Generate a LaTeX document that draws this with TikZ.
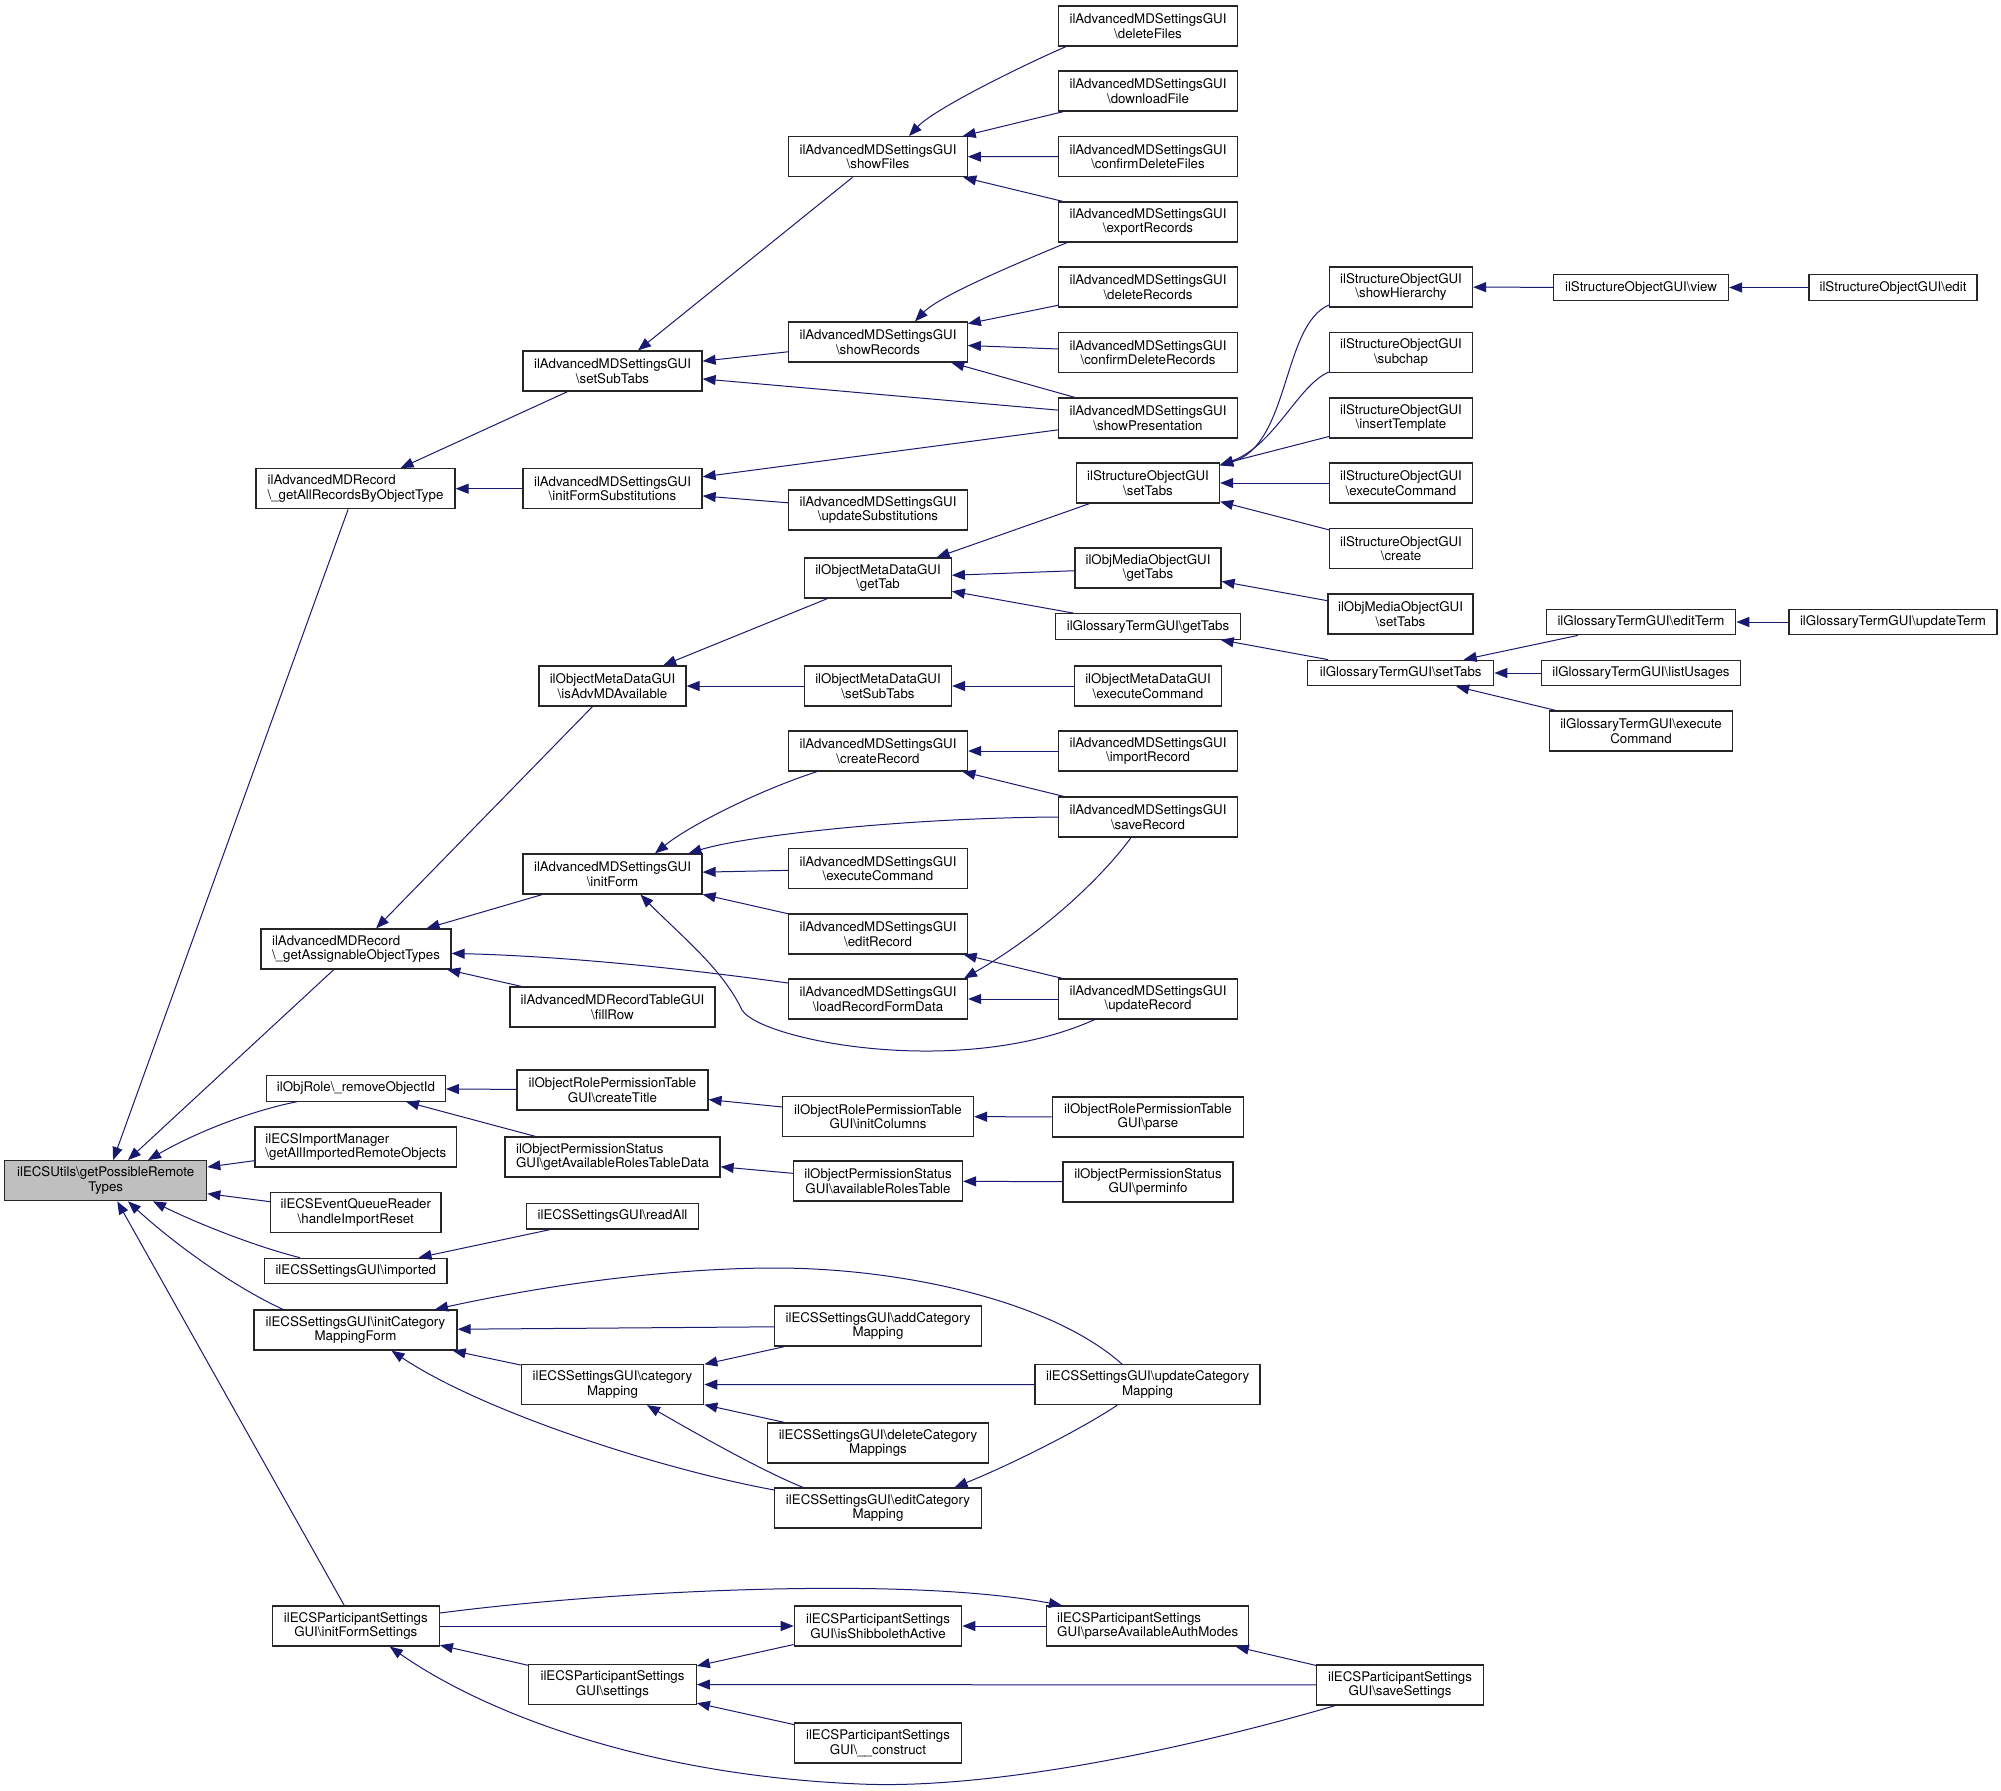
\documentclass[tikz,border=0pt]{standalone}
\usepackage{fontspec}
\setmainfont{TeX Gyre Heros}
\usetikzlibrary{arrows.meta}
\definecolor{edgeblue}{RGB}{25,25,112}
\definecolor{rootgray}{RGB}{191,191,191}
\newcommand{\BSx}{\textbackslash}
\begin{document}
\begin{tikzpicture}[x=1pt,y=-1pt,
 box/.style={draw=black!85,line width=1.25pt,inner sep=0pt,align=center,font=\fontsize{13.3pt}{14.5pt}\selectfont,minimum height=40pt},
 lbox/.style={box,align=left},
 sbox/.style={box,minimum height=25.5pt},
 conn/.style={draw=edgeblue,line width=1.0pt,{Triangle[length=13pt,width=10pt]}-},
 connr/.style={draw=edgeblue,line width=1.0pt,-{Triangle[length=13pt,width=10pt]}},
]
\useasboundingbox (0,0) rectangle (2001,1790);
% column 1
\node[box,fill=rootgray,minimum width=202pt] (R) at (105.7,1180.7) {ilECSUtils\BSx getPossibleRemote\\Types};
% column 2
\node[lbox,minimum width=199pt] (A1) at (355.5,488.7) {ilAdvancedMDRecord\\\BSx\_getAllRecordsByObjectType};
\node[lbox,minimum width=190pt] (A2) at (356,949) {ilAdvancedMDRecord\\\BSx\_getAssignableObjectTypes};
\node[sbox,minimum width=178.6pt] (A3) at (356,1088.4) {ilObjRole\BSx\_removeObjectId};
\node[lbox,minimum width=201.7pt] (A4) at (355.8,1147) {ilECSImportManager\\\BSx getAllImportedRemoteObjects};
\node[box,minimum width=170.5pt] (A5) at (355.8,1212.6) {ilECSEventQueueReader\\\BSx handleImportReset};
\node[sbox,minimum width=182.5pt] (A6) at (355.8,1271) {ilECSSettingsGUI\BSx imported};
\node[box,minimum width=203pt] (A7) at (355.5,1330) {ilECSSettingsGUI\BSx initCategory\\MappingForm};
\node[box,minimum width=167pt] (A8) at (355.8,1626) {ilECSParticipantSettings\\GUI\BSx initFormSettings};
% column 3
\node[box,minimum width=179pt] (B1) at (612.5,371) {ilAdvancedMDSettingsGUI\\\BSx setSubTabs};
\node[box,minimum width=179pt] (B2) at (612.5,488.7) {ilAdvancedMDSettingsGUI\\\BSx initFormSubstitutions};
\node[box,minimum width=147pt] (B3) at (612.5,686) {ilObjectMetaDataGUI\\\BSx isAdvMDAvailable};
\node[box,minimum width=179pt] (B4) at (612.5,874) {ilAdvancedMDSettingsGUI\\\BSx initForm};
\node[box,minimum width=205pt] (B5) at (612.5,1007) {ilAdvancedMDRecordTableGUI\\\BSx fillRow};
\node[box,minimum width=191pt] (B6) at (612.5,1090) {ilObjectRolePermissionTable\\GUI\BSx createTitle};
\node[lbox,minimum width=215pt] (B7) at (612.5,1157) {ilObjectPermissionStatus\\GUI\BSx getAvailableRolesTableData};
\node[sbox,minimum width=171.7pt] (B8) at (612.5,1216.3) {ilECSSettingsGUI\BSx readAll};
\node[box,minimum width=182.4pt] (B9) at (612.5,1384.5) {ilECSSettingsGUI\BSx category\\Mapping};
\node[box,minimum width=167.5pt] (B10) at (612.5,1684.5) {ilECSParticipantSettings\\GUI\BSx settings};
% column 4
\node[box,minimum width=178.5pt] (C1) at (878,156.7) {ilAdvancedMDSettingsGUI\\\BSx showFiles};
\node[box,minimum width=178.5pt] (C2) at (878,342) {ilAdvancedMDSettingsGUI\\\BSx showRecords};
\node[box,minimum width=178.5pt] (C2b) at (878,510) {ilAdvancedMDSettingsGUI\\\BSx updateSubstitutions};
\node[box,minimum width=146.5pt] (C3) at (878,578) {ilObjectMetaDataGUI\\\BSx getTab};
\node[box,minimum width=147pt] (C4) at (878,686) {ilObjectMetaDataGUI\\\BSx setSubTabs};
\node[box,minimum width=179pt] (C5) at (878,751) {ilAdvancedMDSettingsGUI\\\BSx createRecord};
\node[box,minimum width=179pt] (C6) at (878,868.5) {ilAdvancedMDSettingsGUI\\\BSx executeCommand};
\node[box,minimum width=179pt] (C7) at (878,934) {ilAdvancedMDSettingsGUI\\\BSx editRecord};
\node[box,minimum width=179pt] (C8) at (878,999) {ilAdvancedMDSettingsGUI\\\BSx loadRecordFormData};
\node[box,minimum width=191pt] (C9) at (878,1116.5) {ilObjectRolePermissionTable\\GUI\BSx initColumns};
\node[box,minimum width=169pt] (C10) at (878,1181) {ilObjectPermissionStatus\\GUI\BSx availableRolesTable};
\node[box,minimum width=206.4pt] (C11) at (878,1326) {ilECSSettingsGUI\BSx addCategory\\Mapping};
\node[box,minimum width=220.3pt] (C12) at (878,1443) {ilECSSettingsGUI\BSx deleteCategory\\Mappings};
\node[box,minimum width=206.4pt] (C13) at (878,1508) {ilECSSettingsGUI\BSx editCategory\\Mapping};
\node[box,minimum width=167.4pt] (C14) at (878,1626) {ilECSParticipantSettings\\GUI\BSx isShibbolethActive};
\node[box,minimum width=167pt] (C15) at (878,1743) {ilECSParticipantSettings\\GUI\BSx\_\_construct};
% column 5
\node[box,minimum width=179pt] (D1) at (1148,26) {ilAdvancedMDSettingsGUI\\\BSx deleteFiles};
\node[box,minimum width=179pt] (D2) at (1148,91) {ilAdvancedMDSettingsGUI\\\BSx downloadFile};
\node[box,minimum width=179pt] (D3) at (1148,156.6) {ilAdvancedMDSettingsGUI\\\BSx confirmDeleteFiles};
\node[box,minimum width=179pt] (D4) at (1148,222) {ilAdvancedMDSettingsGUI\\\BSx exportRecords};
\node[box,minimum width=179pt] (D5) at (1148,287) {ilAdvancedMDSettingsGUI\\\BSx deleteRecords};
\node[box,minimum width=179pt] (D6) at (1148,352.5) {ilAdvancedMDSettingsGUI\\\BSx confirmDeleteRecords};
\node[box,minimum width=179pt] (D7) at (1148,418) {ilAdvancedMDSettingsGUI\\\BSx showPresentation};
\node[box,minimum width=143pt] (D8) at (1148,483) {ilStructureObjectGUI\\\BSx setTabs};
\node[box,minimum width=146pt] (D9) at (1148,568) {ilObjMediaObjectGUI\\\BSx getTabs};
\node[sbox,minimum width=185pt] (D10) at (1148,626.5) {ilGlossaryTermGUI\BSx getTabs};
\node[box,minimum width=147pt] (D11) at (1148,686) {ilObjectMetaDataGUI\\\BSx executeCommand};
\node[box,minimum width=179pt] (D12) at (1148,751) {ilAdvancedMDSettingsGUI\\\BSx importRecord};
\node[box,minimum width=179pt] (D13) at (1148,817) {ilAdvancedMDSettingsGUI\\\BSx saveRecord};
\node[box,minimum width=179pt] (D14) at (1148,999) {ilAdvancedMDSettingsGUI\\\BSx updateRecord};
\node[box,minimum width=191.4pt] (D15) at (1148,1117) {ilObjectRolePermissionTable\\GUI\BSx parse};
\node[box,minimum width=170pt] (D16) at (1148,1182) {ilObjectPermissionStatus\\GUI\BSx perminfo};
\node[box,minimum width=225pt] (D17) at (1147.6,1384.7) {ilECSSettingsGUI\BSx updateCategory\\Mapping};
\node[lbox,minimum width=202pt] (D18) at (1147.7,1626) {ilECSParticipantSettings\\GUI\BSx parseAvailableAuthModes};
% column 6
\node[box,minimum width=143pt] (E1) at (1401,287) {ilStructureObjectGUI\\\BSx showHierarchy};
\node[box,minimum width=143pt] (E2) at (1401,352.5) {ilStructureObjectGUI\\\BSx subchap};
\node[box,minimum width=143pt] (E3) at (1401,418) {ilStructureObjectGUI\\\BSx insertTemplate};
\node[box,minimum width=143pt] (E4) at (1401,483) {ilStructureObjectGUI\\\BSx executeCommand};
\node[box,minimum width=143pt] (E5) at (1401,548.5) {ilStructureObjectGUI\\\BSx create};
\node[box,minimum width=145pt] (E6) at (1400.5,614) {ilObjMediaObjectGUI\\\BSx setTabs};
\node[sbox,minimum width=186pt] (E7) at (1400.7,673) {ilGlossaryTermGUI\BSx setTabs};
\node[box,minimum width=167pt] (E8) at (1400,1685) {ilECSParticipantSettings\\GUI\BSx saveSettings};
% column 7
\node[sbox,minimum width=175pt] (F1) at (1641,287.5) {ilStructureObjectGUI\BSx view};
\node[sbox,minimum width=189.4pt] (F2) at (1641,622) {ilGlossaryTermGUI\BSx editTerm};
\node[sbox,minimum width=199.5pt] (F3) at (1641,673) {ilGlossaryTermGUI\BSx listUsages};
\node[box,minimum width=183pt] (F4) at (1641,731) {ilGlossaryTermGUI\BSx execute\\Command};
% column 8
\node[sbox,minimum width=168pt] (G1) at (1893,287.5) {ilStructureObjectGUI\BSx edit};
\node[sbox,minimum width=208pt] (G2) at (1893,622) {ilGlossaryTermGUI\BSx updateTerm};
% edges into root
\draw[conn] (R) -- (A1);
\draw[conn] (R) -- (A2);
\draw[conn] ([xshift=42.3pt]R.north) .. controls (200,1130) and (255,1110) .. ([xshift=-59.3pt]A3.south);
\draw[conn] (R) -- (A4);
\draw[conn] (R) -- (A5);
\draw[conn] ([xshift=47.3pt]R.south) .. controls (190,1220) and (250,1245) .. ([xshift=-56pt]A6.north);
\draw[conn] ([xshift=22.3pt]R.south) .. controls (170,1240) and (230,1285) .. ([xshift=-72.5pt]A7.north);
\draw[conn] (R) -- (A8);
% A1 group
\draw[conn] (A1) -- (B1);
\draw[conn] (A1) -- (B2);
\draw[conn] (B1) -- (C1);
\draw[conn] (B1) -- (C2);
\draw[conn] (B1) -- (D7);
\draw[conn] ([xshift=31pt]C1.north) .. controls (935,108) and (1030,62) .. ([xshift=-82pt]D1.south);
\draw[conn] (C1) -- (D2);
\draw[conn] (C1) -- (D3);
\draw[conn] (C1) -- (D4);
\draw[conn] ([xshift=37pt]C2.north) .. controls (940,295) and (1030,258) .. ([xshift=-81pt]D4.south);
\draw[conn] (C2) -- (D5);
\draw[conn] (C2) -- (D6);
\draw[conn] (C2) -- (D7);
\draw[conn] (B2) -- (D7);
\draw[conn] (B2) -- (C2b);
% A2 group
\draw[conn] (A2) -- (B3);
\draw[conn] (A2) -- (B4);
\draw[conn] ([yshift=-4.4pt]A2.east) .. controls (560,956) and (680,968) .. ([yshift=16pt]C8.west);
\draw[conn] (A2) -- (B5);
\draw[conn] (B3) -- (C3);
\draw[conn] (B3) -- (C4);
\draw[conn] (C4) -- (D11);
\draw[conn] (C3) -- (D8);
\draw[conn] (C3) -- (D9);
\draw[conn] (C3) -- (D10);
\draw[conn] ([yshift=-3pt]D8.north east) .. controls (1290,445) and (1282,325) .. ([yshift=-18pt]E1.west);
\draw[conn] ([yshift=-3pt]D8.north east) .. controls (1275,445) and (1298,385) .. ([yshift=-19.5pt]E2.west);
\draw[conn] (D8) -- (E3);
\draw[conn] (D8) -- (E4);
\draw[conn] (D8) -- (E5);
\draw[conn] (E1) -- (F1);
\draw[conn] (F1) -- (G1);
\draw[conn] (D9) -- (E6);
\draw[conn] (D10) -- (E7);
\draw[conn] (E7) -- (F2);
\draw[conn] (E7) -- (F3);
\draw[conn] (E7) -- (F4);
\draw[conn] (F2) -- (G2);
\draw[conn] ([xshift=42.5pt]B4.north) .. controls (690,825) and (760,790) .. ([xshift=-61pt]C5.south);
\draw[conn] ([xshift=76pt]B4.north) .. controls (745,836) and (900,818) .. (D13.west);
\draw[conn] (B4) -- (C6);
\draw[conn] (B4) -- (C7);
\draw[conn] ([xshift=28pt]B4.south) .. controls (680,935) and (722,968) .. (742,1010) .. controls (760,1040) and (960,1080) .. ([xshift=-53.4pt]D14.south);
\draw[conn] (C5) -- (D12);
\draw[conn] (C5) -- (D13);
\draw[conn] (C7) -- (D14);
\draw[conn] ([xshift=86pt]C8.north) .. controls (1040,935) and (1100,880) .. ([xshift=-17pt]D13.south);
\draw[conn] (C8) -- (D14);
% A3 group
\draw[conn] (A3) -- (B6);
\draw[conn] (A3) -- (B7);
\draw[conn] (B6) -- (C9);
\draw[conn] (C9) -- (D15);
\draw[conn] (B7) -- (C10);
\draw[conn] (C10) -- (D16);
% A6
\draw[conn] (A6) -- (B8);
% A7 group
\draw[conn] ([xshift=79.5pt]A7.north) .. controls (560,1282) and (680,1268) .. (775,1268) .. controls (900,1268) and (1050,1300) .. ([xshift=-25.6pt]D17.north);
\draw[conn] (A7) -- (C11);
\draw[conn] (A7) -- (B9);
\draw[conn] ([xshift=36pt]A7.south) .. controls (480,1410) and (655,1468) .. ([yshift=18pt]C13.west);
\draw[conn] (B9) -- (C11);
\draw[conn] (B9) -- (D17);
\draw[conn] (B9) -- (C12);
\draw[conn] ([xshift=34.5pt]B9.south) .. controls (690,1430) and (760,1470) .. ([xshift=-75pt]C13.north);
\draw[conn] ([xshift=76.5pt]C13.north) .. controls (1010,1465) and (1080,1430) .. ([xshift=-30.6pt]D17.south);
% A8 group
\draw[conn] (A8) -- (B10);
\draw[conn] ([xshift=34pt]A8.south) .. controls (480,1710) and (640,1775) .. (860,1784) .. controls (1000,1790) and (1200,1745) .. ([xshift=-65pt]E8.south);
\draw[connr] ([yshift=13pt]A8.east) .. controls (600,1592) and (900,1575) .. ([xshift=-85.7pt]D18.north);
\draw[connr] (A8) -- (C14);
\draw[conn] (B10) -- (C14);
\draw[conn] (B10) -- (E8);
\draw[conn] (B10) -- (C15);
\draw[conn] (C14) -- (D18);
\draw[conn] (D18) -- (E8);
\end{tikzpicture}
\end{document}
